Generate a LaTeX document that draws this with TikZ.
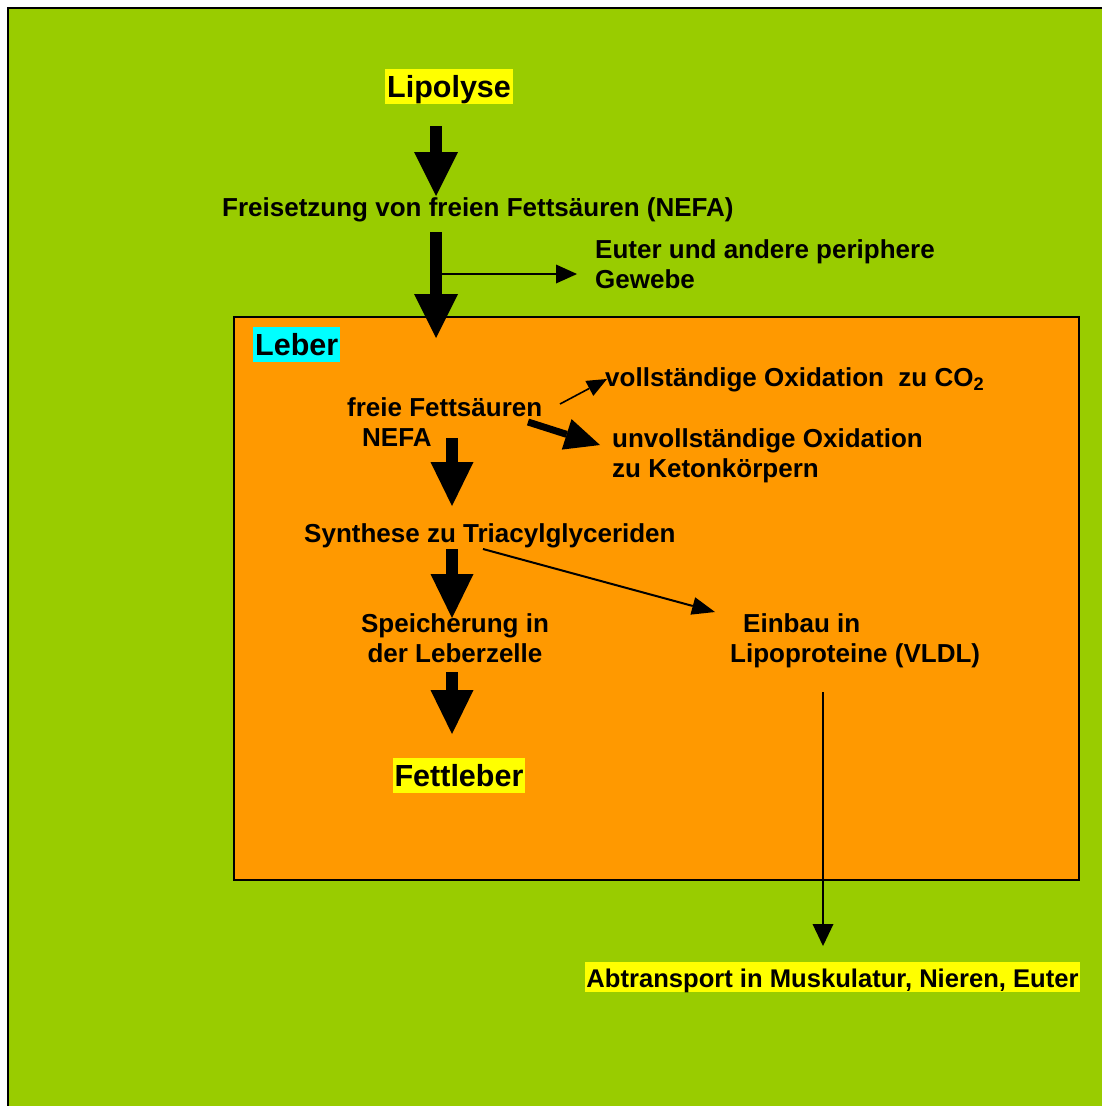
\documentclass[tikz,border=0pt]{standalone}
\usepackage{fontspec}
\setmainfont{Liberation Sans}
\usetikzlibrary{arrows.meta}

\definecolor{bggreen}{RGB}{153,204,0}
\definecolor{liverorange}{RGB}{255,153,0}
\definecolor{hlyellow}{RGB}{255,255,0}
\definecolor{hlcyan}{RGB}{0,255,255}

\tikzset{
  txt/.style={inner sep=0pt, font=\fontsize{26}{30}\selectfont\bfseries},
  bigtxt/.style={inner xsep=2pt, inner ysep=0pt, text height=28pt, text depth=6.5pt,
    font=\fontsize{30.5}{34}\selectfont\bfseries},
  hltxt/.style={inner xsep=1pt, inner ysep=0pt, text height=25pt, text depth=5pt,
    font=\fontsize{25.6}{30}\selectfont\bfseries},
  blockarrow/.style={line width=12pt,
    -{Triangle[length=44pt,width=44pt,line width=0pt]}},
  midarrow/.style={line width=7pt,
    -{Triangle[length=35pt,width=32pt,line width=0pt]}},
  thinarrow/.style={line width=2pt,
    -{Triangle[length=21pt,width=19pt,line width=0pt]}},
}

\begin{document}
\begin{tikzpicture}[x=1pt,y=-1pt]
\useasboundingbox (0,0) rectangle (1101,1106);
\fill[white] (0,0) rectangle (1101,1106);

% outer panel
\draw[fill=bggreen, line width=2.5pt] (8,8) rectangle (1120,1125);

% liver region
\draw[fill=liverorange, line width=2pt] (234,317) rectangle (1079,880);

% labels (multi-line nodes are anchored at the baseline of their last line)
\node[bigtxt, fill=hlyellow, anchor=base] (lip) at (449,97) {Lipolyse};
\node[txt, anchor=base west] (frei) at (222,216) {Freisetzung von freien Fettsäuren (NEFA)};
\node[txt, anchor=base west, align=left] (euter) at (595,288) {Euter und andere periphere\\Gewebe};
\node[bigtxt, fill=hlcyan, anchor=base west] (leber) at (253,355) {Leber};
\node[txt, anchor=base west, align=left] (nefa) at (347,446) {freie Fettsäuren\\\hspace*{15pt}NEFA};
\node[txt, anchor=base west] (voll) at (605,386) {vollständige Oxidation\ \ zu CO\textsubscript{2}};
\node[txt, anchor=base west, align=left] (unvoll) at (612,477) {unvollständige Oxidation\\zu Ketonkörpern};
\node[txt, anchor=base west] (synth) at (304,542) {Synthese zu Triacylglyceriden};
\node[txt, anchor=base, align=center] (speich) at (455,662) {Speicherung in\\der Leberzelle};
\node[txt, anchor=base west, align=left] (einbau) at (730,662) {\hspace*{13pt}Einbau in\\Lipoproteine (VLDL)};
\node[bigtxt, fill=hlyellow, anchor=base] (fett) at (459,786) {Fettleber};
\node[hltxt, fill=hlyellow, anchor=base] (abtr) at (832.5,987) {Abtransport in Muskulatur, Nieren, Euter};

% connector end points
\coordinate (lipOut)   at (436,126);
\coordinate (freiIn)   at (436,196);
\coordinate (freiOut)  at (436,232);
\coordinate (leberIn)  at (436,338);
\coordinate (branch)   at (441,274);
\coordinate (euterIn)  at (577,274);
\coordinate (nefaOut)  at (452,438);
\coordinate (synthIn)  at (452,506);
\coordinate (co2Out)   at (560,404);
\coordinate (co2In)    at (607,379);
\coordinate (ketoOut)  at (528,422);
\coordinate (ketoIn)   at (600,445);
\coordinate (synthOut) at (452,549);
\coordinate (speichIn) at (452,618);
\coordinate (vldlOut)  at (483,549);
\coordinate (vldlIn)   at (715,612);
\coordinate (speichOut) at (452,672);
\coordinate (fettIn)   at (452,734);
\coordinate (einbauOut) at (823,692);
\coordinate (abtrIn)   at (823,946);

% connectors
\draw[blockarrow] (lipOut) -- (freiIn);
\draw[blockarrow] (freiOut) -- (leberIn);
\draw[thinarrow] (branch) -- (euterIn);
\draw[thinarrow, line width=1.6pt, -{Triangle[length=20pt,width=17pt,line width=0pt]}] (co2Out) -- (co2In);
\draw[midarrow] (ketoOut) -- (ketoIn);
\draw[blockarrow, -{Triangle[length=44pt,width=43pt,line width=0pt]}] (nefaOut) -- (synthIn);
\draw[blockarrow, -{Triangle[length=44pt,width=43pt,line width=0pt]}] (synthOut) -- (speichIn);
\draw[thinarrow, -{Triangle[length=23pt,width=18pt,line width=0pt]}] (vldlOut) -- (vldlIn);
\draw[blockarrow, -{Triangle[length=44pt,width=43pt,line width=0pt]}] (speichOut) -- (fettIn);
\draw[thinarrow, -{Triangle[length=22pt,width=21pt,line width=0pt]}] (einbauOut) -- (abtrIn);
\end{tikzpicture}
\end{document}
